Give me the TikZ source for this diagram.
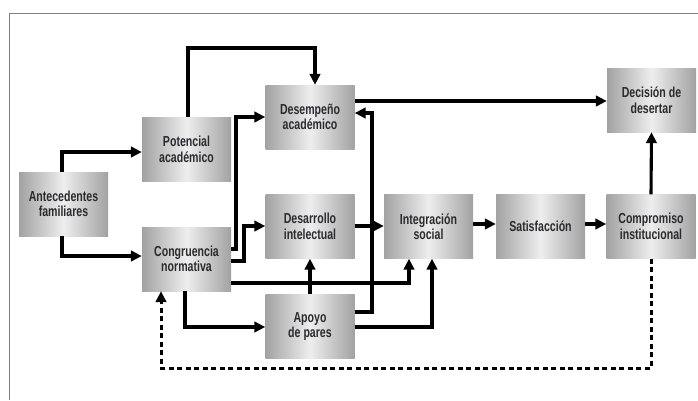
\documentclass[tikz,border=0pt]{standalone}
\usepackage{fontspec}
\setmainfont{Liberation Sans}[FakeStretch=0.73]
\usetikzlibrary{arrows.meta}
\definecolor{txt}{HTML}{2A2A30}
\definecolor{boxedge}{HTML}{A2A2A2}
\definecolor{boxmid}{HTML}{EEEEEE}
\begin{document}
\begin{tikzpicture}[x=1pt,y=-1pt,
  box/.style={minimum width=89pt,minimum height=64pt,inner sep=0pt,
    left color=boxedge,right color=boxedge,middle color=boxmid,
    align=center,font=\fontsize{14.5}{15.5}\selectfont\bfseries,text=txt},
  conn/.style={line width=3.1pt,-{Triangle[length=11pt,width=10.5pt]}},
  fb/.style={line width=3pt,dash pattern=on 5pt off 3.5pt,-{Triangle[length=11pt,width=10.5pt]}}]
\useasboundingbox (0,0) rectangle (698,400);
\fill[white] (0,0) rectangle (698,400);
\draw[gray,line width=1pt] (9,400) -- (9,13) -- (698,13);

\node[box] (ant) at (63.5,204) {Antecedentes\\familiares};
\node[box] (pot) at (186.5,149.5) {Potencial\\académico};
\node[box] (con) at (186.5,259) {Congruencia\\normativa};
\node[box] (des) at (310,117) {Desempeño\\académico};
\node[box] (dint) at (310,226.5) {Desarrollo\\intelectual};
\node[box] (apo) at (310,326.5) {Apoyo\\de pares};
\node[box] (int) at (428.5,226.5) {Integración\\social};
\node[box] (sat) at (540.5,226.5) {Satisfacción};
\node[box] (com) at (651,226.5) {Compromiso\\institucional};
\node[box] (dec) at (651.5,100) {Decisión de\\desertar};

\draw[conn] (ant.north -| 62,0) |- (pot.west |- 0,152);
\draw[conn] (ant.south -| 62,0) |- (con.west |- 0,256);
\draw[conn] (pot.north -| 188,0) -- (188,48) -| (des.north -| 315,0);
\draw[conn] (con.east |- 0,249) -- (236,249) |- (des.west |- 0,117);
\draw[conn] (con.east |- 0,261) -- (244,261) |- (dint.west |- 0,226);
\draw[conn] (con.east |- 0,283) -| (int.south -| 409,0);
\draw[conn] (con.south -| 185,0) |- (apo.west |- 0,327);
\draw[conn] (apo.north) -- (dint.south);
\draw[conn] (apo.east |- 0,312) -- (372,312) |- (des.east |- 0,113);
\draw[conn] (apo.east |- 0,327) -| (int.south -| 432,0);
\draw[conn] (des.east |- 0,101) -- (dec.west |- 0,101);
\draw[conn] (dint.east |- 0,226) -- (int.west |- 0,226);
\draw[conn] (int.east |- 0,224) -- (sat.west |- 0,224);
\draw[conn] (sat.east |- 0,224) -- (com.west |- 0,224);
\draw[conn] (com.north) -- (dec.south);
\draw[fb] (com.south) -- (651,368) -| (con.south -| 161,0);
\end{tikzpicture}
\end{document}
